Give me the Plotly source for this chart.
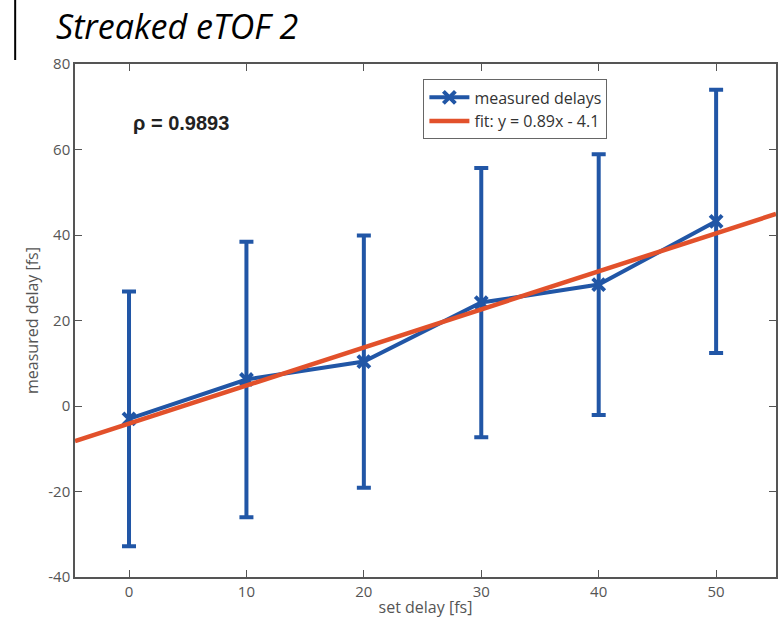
import plotly.graph_objects as go

set_delay = [0, 10, 20, 30, 40, 50]
measured = [-3.0, 6.2, 10.4, 24.2, 28.4, 43.2]
err = [29.8, 32.2, 29.5, 31.5, 30.5, 30.8]
fit_slope = 0.89
fit_intercept = -4.1
x_range = [-4.6, 55.1]
fit_x = x_range
fit_y = [fit_slope * v + fit_intercept for v in fit_x]
x_ticks = [0, 10, 20, 30, 40, 50]
y_ticks = [-40, -20, 0, 20, 40, 60, 80]
y_ticktext = ["-40", "-20", "0", "20", "40", "60", "80"]

BLUE = "#2156a6"
RED = "#e2512b"
GRAY = "#555555"

fig = go.Figure()
fig.add_trace(go.Scatter(
    x=set_delay, y=measured, mode="lines+markers", name="measured delays",
    line=dict(color=BLUE, width=4),
    marker=dict(symbol="x-thin", size=12, line=dict(color=BLUE, width=4), color=BLUE),
    error_y=dict(type="data", array=err, visible=True, color=BLUE, thickness=4, width=7),
))
fig.add_trace(go.Scatter(
    x=fit_x, y=fit_y, mode="lines", name="fit: y = 0.89x - 4.1",
    line=dict(color=RED, width=4.5),
))

axis_common = dict(
    showgrid=False, zeroline=False, showline=True, linecolor=GRAY, linewidth=1.5,
    mirror="ticks", ticks="inside", ticklen=7, tickcolor=GRAY, tickwidth=1,
    tickfont=dict(family="Open Sans", size=15, color=GRAY),
)
fig.update_xaxes(range=x_range, tickvals=x_ticks,
                 title=dict(text="set delay [fs]", font=dict(family="Open Sans", size=16, color=GRAY), standoff=2),
                 **axis_common)
fig.update_yaxes(range=[-40, 80], tickvals=y_ticks, ticktext=y_ticktext,
                 title=dict(text="measured delay [fs]", font=dict(family="Open Sans", size=16, color=GRAY), standoff=6),
                 **axis_common)

fig.update_layout(
    width=784, height=620,
    margin=dict(l=75, r=6, t=64, b=43),
    plot_bgcolor="white", paper_bgcolor="white",
    showlegend=True,
    legend=dict(x=0.497, y=0.97, xanchor="left", yanchor="top",
                bordercolor="#666666", borderwidth=1, bgcolor="white",
                font=dict(family="Open Sans", size=16, color="#333333"),
                tracegroupgap=0, itemwidth=40),
    annotations=[
        dict(text="<i>Streaked eTOF 2</i>", xref="paper", yref="paper",
             x=-0.03, y=1.1235, xanchor="left", yanchor="top", showarrow=False,
             font=dict(family="Open Sans", size=34, color="black")),
        dict(text="<b>ρ = 0.9893</b>", xref="paper", yref="paper",
             x=0.08, y=0.885, xanchor="left", yanchor="middle", showarrow=False,
             font=dict(family="Liberation Sans", size=20, color="#222222")),
    ],
)
fig.add_shape(type="line", xref="paper", yref="paper",
              x0=(15 - 75) / 703, x1=(15 - 75) / 703,
              y0=(577 - 60) / 513, y1=(577 - 0) / 513,
              line=dict(color="black", width=2))

fig.write_html("out.html")
